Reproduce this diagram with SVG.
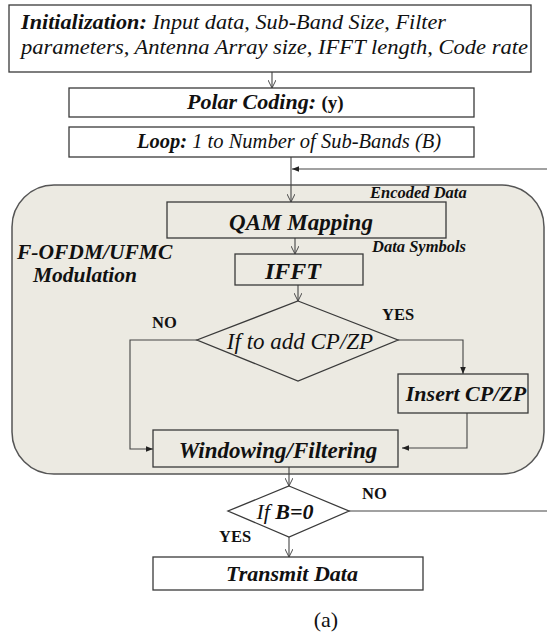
<svg xmlns="http://www.w3.org/2000/svg" width="547" height="635" viewBox="0 0 547 635">
<style>
.box{fill:#fff;stroke:#3a3a3a;stroke-width:1.3}
.inbox{fill:none;stroke:#3a3a3a;stroke-width:1.3}
.ln{fill:none;stroke:#444;stroke-width:1.1}
text{font-family:'Liberation Serif','DejaVu Serif',serif;fill:#111}
.i{font-style:italic}
.b{font-weight:bold}
.bi{font-weight:bold;font-style:italic}
.lbl{font-size:16.5px}
</style>
<defs>
<marker id="av" viewBox="0 0 10 10" refX="10" refY="5" markerWidth="8" markerHeight="8" markerUnits="userSpaceOnUse" orient="auto">
<path d="M0,0 L10,5 L0,10" fill="none" stroke="#444" stroke-width="1.2"/>
</marker>
<marker id="af" viewBox="0 0 10 10" refX="10" refY="5" markerWidth="8" markerHeight="7" markerUnits="userSpaceOnUse" orient="auto">
<path d="M0,1 L10,5 L0,9 z" fill="#222"/>
</marker>
</defs>
<rect width="547" height="635" fill="#fff"/>
<g font-family="Liberation Serif, DejaVu Serif, serif">
<g id="container">
<rect x="12" y="185" width="532" height="289" rx="42" ry="42" fill="#ECEAE2" stroke="#555" stroke-width="1.5"/>
<text class="bi" x="17" y="259" font-size="21.5">F-OFDM/UFMC</text>
<text class="bi" x="33" y="282" font-size="21.5">Modulation</text>
</g>
<g id="connectors">
<line class="ln" x1="272" y1="72" x2="272" y2="88" marker-end="url(#av)"/>
<line class="ln" x1="291" y1="157" x2="291" y2="202" marker-end="url(#av)"/>
<line class="ln" x1="547" y1="169" x2="292" y2="169" marker-end="url(#af)"/>
<line class="ln" x1="295" y1="238" x2="295" y2="254" marker-end="url(#av)"/>
<line class="ln" x1="298" y1="285" x2="298" y2="301" marker-end="url(#av)"/>
<polyline class="ln" points="197,340 130,340 130,449 153,449" marker-end="url(#af)"/>
<polyline class="ln" points="398,340 463,340 463,374" marker-end="url(#af)"/>
<polyline class="ln" points="467,413 467,448 402,448" marker-end="url(#af)"/>
<line class="ln" x1="289" y1="467" x2="289" y2="486" marker-end="url(#av)"/>
<line class="ln" x1="349" y1="511" x2="547" y2="511"/>
<line class="ln" x1="289" y1="537" x2="289" y2="557" marker-end="url(#av)"/>
<text class="bi lbl" x="370" y="198">Encoded Data</text>
<text class="bi lbl" x="372" y="252">Data Symbols</text>
<text class="b lbl" x="152" y="328">NO</text>
<text class="b lbl" x="382" y="320">YES</text>
<text class="b lbl" x="362" y="499">NO</text>
<text class="b lbl" x="219" y="542">YES</text>
</g>
<g id="init">
<rect class="box" x="9" y="5" width="522" height="67"/>
<text x="21" y="29" font-size="20" textLength="425" lengthAdjust="spacingAndGlyphs"><tspan class="bi">Initialization:</tspan><tspan class="i"> Input data, Sub-Band Size, Filter</tspan></text>
<text class="i" x="21" y="54" font-size="20" textLength="507" lengthAdjust="spacingAndGlyphs">parameters, Antenna Array size, IFFT length, Code rate</text>
</g>
<g id="polar">
<rect class="box" x="69" y="88" width="405" height="29"/>
<text x="187" y="109" font-size="22"><tspan class="bi">Polar Coding: </tspan><tspan class="b" font-size="19">(y)</tspan></text>
</g>
<g id="loop">
<rect class="box" x="69" y="127" width="405" height="30"/>
<text x="137" y="148" font-size="20.5"><tspan class="bi">Loop:</tspan><tspan class="i"> 1 to Number of Sub-Bands (B)</tspan></text>
</g>
<g id="qam">
<rect class="inbox" x="167" y="202" width="279" height="36"/>
<text class="bi" x="301" y="230" font-size="23" text-anchor="middle">QAM Mapping</text>
</g>
<g id="ifft">
<rect class="inbox" x="235" y="254" width="128" height="31"/>
<text class="bi" x="293" y="279" font-size="24" text-anchor="middle">IFFT</text>
</g>
<g id="cpzp-decision">
<polygon class="inbox" points="298,301 398,340 298,381 197,340"/>
<text class="i" x="300" y="349" font-size="23" text-anchor="middle">If to add CP/ZP</text>
</g>
<g id="insert">
<rect class="inbox" x="398" y="374" width="130" height="39"/>
<text class="bi" x="466" y="401" font-size="22" text-anchor="middle">Insert CP/ZP</text>
</g>
<g id="windowing">
<rect class="inbox" x="153" y="430" width="245" height="37"/>
<text class="bi" x="278" y="458" font-size="23" text-anchor="middle">Windowing/Filtering</text>
</g>
<g id="b-decision">
<polygon class="inbox" points="289,486 349,511 289,537 228,511"/>
<text x="285" y="519" font-size="22" text-anchor="middle"><tspan class="i">If </tspan><tspan class="bi">B=0</tspan></text>
</g>
<g id="transmit">
<rect class="box" x="153" y="557" width="270" height="33"/>
<text class="bi" x="292" y="581" font-size="22" text-anchor="middle">Transmit Data</text>
</g>
<text x="326" y="627" font-size="22" text-anchor="middle">(a)</text>
</g>
</svg>
